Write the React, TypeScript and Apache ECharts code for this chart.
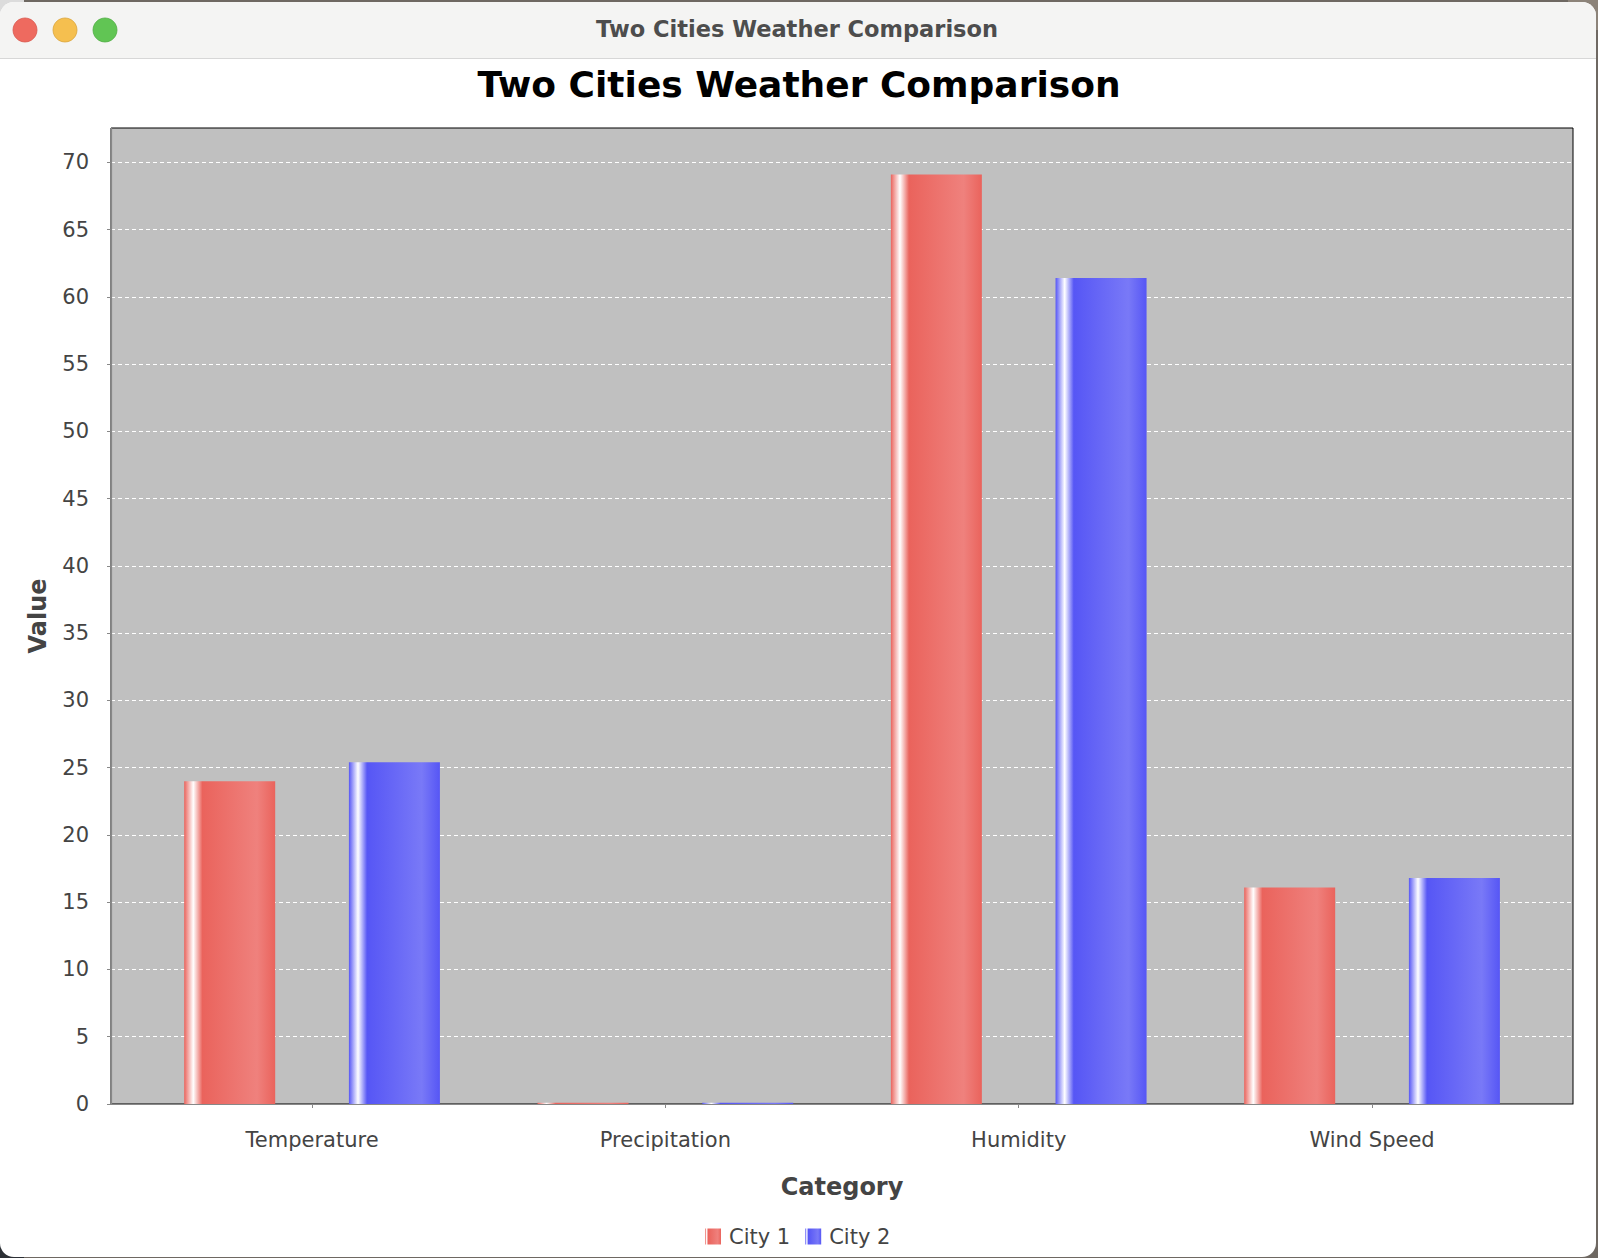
import React, { useEffect, useRef } from "react";
import * as echarts from "echarts";

const categories = ["Temperature", "Precipitation", "Humidity", "Wind Speed"];
const seriesNames = ["City 1", "City 2"];
const city1Values = [24.0, 0.1, 69.1, 16.1];
const city2Values = [25.4, 0.1, 61.4, 16.8];
const yTickValues = [0, 5, 10, 15, 20, 25, 30, 35, 40, 45, 50, 55, 60, 65, 70];
const yMax = 72.55;

const FONT = "DejaVu Sans";
const RED = "#ea635c";
const RED_LIGHT = "#ef817d";
const BLUE = "#5656f5";
const BLUE_LIGHT = "#7979f7";

function barGradient(base: string, light: string) {
  return new echarts.graphic.LinearGradient(0, 0, 1, 0, [
    { offset: 0, color: base },
    { offset: 0.1, color: "#ffffff" },
    { offset: 0.2, color: base },
    { offset: 0.8, color: light },
    { offset: 1, color: base },
  ]);
}

export default function App() {
  const ref = useRef<HTMLDivElement>(null);

  useEffect(() => {
    if (!ref.current) return;
    const chart = echarts.init(ref.current, undefined, { renderer: "svg" });
    const W = 1598;
    const H = 1258;
    const plotLeft = 111;
    const plotTop = 128;
    const plotW = 1462;
    const plotH = 976;
    const band = 353.33;
    const innerLeft = 312.05 - band / 2;

    chart.setOption({
      animation: false,
      backgroundColor: "transparent",
      title: {
        text: "Two Cities Weather Comparison",
        left: "center",
        top: 61,
        textStyle: { fontFamily: FONT, fontSize: 36, fontWeight: "bold", color: "#000" },
      },
      legend: {
        data: seriesNames,
        left: 705,
        top: 1226,
        padding: 0,
        icon: "rect",
        itemWidth: 16,
        itemHeight: 16,
        itemGap: 15,
        textStyle: { fontFamily: FONT, fontSize: 21, color: "#444", padding: [0, 0, 0, 3] },
      },
      graphic: [
        { type: "rect", z: -100, shape: { x: 0, y: 0, width: W, height: H }, style: { fill: "#6e6862" } },
        { type: "rect", z: -99, shape: { x: 0, y: 0, width: 24, height: 24 }, style: { fill: "#dcdcdc" } },
        { type: "rect", z: -99, shape: { x: W - 30, y: 0, width: 30, height: 30 }, style: { fill: "#8c8379" } },
        { type: "rect", z: -99, shape: { x: 0, y: H - 24, width: 24, height: 24 }, style: { fill: "#2c3035" } },
        { type: "rect", z: -98, shape: { x: 0, y: 2, width: 1596, height: 1255, r: 14 }, style: { fill: "#ffffff" } },
        { type: "rect", z: -97, shape: { x: 0, y: 2, width: 1596, height: 56, r: [14, 14, 0, 0] }, style: { fill: "#f4f4f3" } },
        { type: "line", z: -96, shape: { x1: 0, y1: 58.5, x2: 1596, y2: 58.5 }, style: { stroke: "#d7d7d7", lineWidth: 1 } },
        { type: "circle", z: -95, shape: { cx: 25, cy: 30, r: 12 }, style: { fill: "#ee6a5f", stroke: "#d9584e", lineWidth: 0.8 } },
        { type: "circle", z: -95, shape: { cx: 65, cy: 30, r: 12 }, style: { fill: "#f5bf4f", stroke: "#dba43a", lineWidth: 0.8 } },
        { type: "circle", z: -95, shape: { cx: 105, cy: 30, r: 12 }, style: { fill: "#61c554", stroke: "#4fad43", lineWidth: 0.8 } },
        {
          type: "text",
          z: -95,
          x: 797,
          y: 29,
          style: {
            text: "Two Cities Weather Comparison",
            fontFamily: FONT,
            fontWeight: "bold",
            fontSize: 22.5,
            fill: "#4d4d4d",
            textAlign: "center",
            textVerticalAlign: "middle",
          },
        },
      ],
      grid: [
        {
          left: plotLeft,
          top: plotTop,
          width: plotW,
          height: plotH,
          show: true,
          backgroundColor: "#c0c0c0",
          borderColor: "#000",
          borderWidth: 1,
        },
        { left: innerLeft, top: plotTop, width: band * 4, height: plotH },
      ],
      xAxis: [
        {
          gridIndex: 0,
          type: "value",
          min: 0,
          max: 1,
          offset: 8,
          axisLine: { show: true, lineStyle: { color: "#888", width: 1.2 } },
          axisTick: { show: false },
          axisLabel: { show: false },
          splitLine: { show: false },
          name: "Category",
          nameLocation: "middle",
          nameGap: 63,
          nameTextStyle: { fontFamily: FONT, fontSize: 24, fontWeight: "bold", color: "#444" },
        },
        {
          gridIndex: 1,
          type: "category",
          data: categories,
          offset: 8,
          axisLine: { show: false },
          axisTick: { show: true, alignWithLabel: true, length: 4, lineStyle: { color: "#888" } },
          axisLabel: { fontFamily: FONT, fontSize: 21, color: "#444", margin: 17 },
        },
      ],
      yAxis: [
        {
          gridIndex: 0,
          type: "value",
          min: 0,
          max: yMax,
          interval: 5,
          offset: 8,
          axisLine: { show: true, lineStyle: { color: "#888", width: 1.2 } },
          axisTick: { show: true, length: 4, lineStyle: { color: "#888" }, customValues: yTickValues },
          axisLabel: { fontFamily: FONT, fontSize: 21, color: "#444", margin: 14, customValues: yTickValues },
          splitLine: { show: true, lineStyle: { color: "#ffffff", type: [4, 3], width: 1 } },
          name: "Value",
          nameLocation: "middle",
          nameGap: 53,
          nameTextStyle: { fontFamily: FONT, fontSize: 24, fontWeight: "bold", color: "#444" },
        },
        { gridIndex: 1, type: "value", min: 0, max: yMax, show: false, splitLine: { show: false } },
      ],
      series: [
        {
          name: seriesNames[0],
          type: "bar",
          xAxisIndex: 1,
          yAxisIndex: 1,
          data: city1Values,
          barWidth: 91,
          barGap: "81%",
          itemStyle: { color: barGradient(RED, RED_LIGHT) },
        },
        {
          name: seriesNames[1],
          type: "bar",
          xAxisIndex: 1,
          yAxisIndex: 1,
          data: city2Values,
          barWidth: 91,
          barGap: "81%",
          itemStyle: { color: barGradient(BLUE, BLUE_LIGHT) },
        },
      ],
      color: [RED, BLUE],
    });
    return () => chart.dispose();
  }, []);

  return (
    <div
      ref={ref}
      style={{ position: "absolute", left: 0, top: 0, width: 1598, height: 1258 }}
    />
  );
}
